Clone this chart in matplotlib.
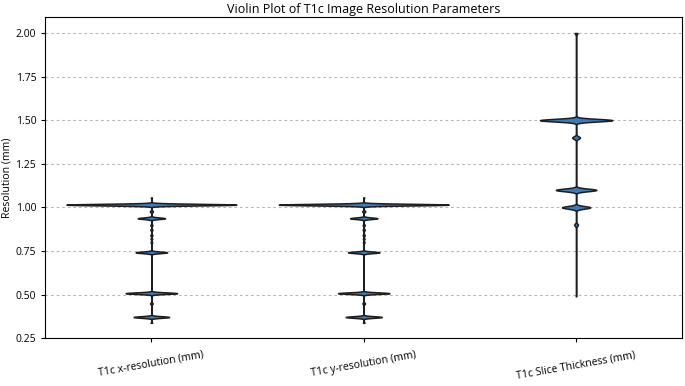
import numpy as np
import matplotlib
matplotlib.use("Agg")
import matplotlib.pyplot as plt

plt.rcParams['font.family'] = ['Open Sans', 'DejaVu Sans']

# Kategoriler
categories = ["T1c x-resolution (mm)", "T1c y-resolution (mm)", "T1c Slice Thickness (mm)"]

# Ayrık çözünürlük değerleri ve görüntü sayıları
x_values = [0.338, 0.3711, 0.449, 0.5078, 0.742, 0.80, 0.82, 0.84, 0.871, 0.898, 0.9375, 0.977, 1.0156, 1.057]
x_counts = [3, 69, 5, 100, 61, 3, 3, 4, 4, 4, 53, 6, 330, 2]

y_values = [0.338, 0.3711, 0.449, 0.5078, 0.742, 0.80, 0.82, 0.84, 0.871, 0.898, 0.9375, 0.977, 1.0156, 1.057]
y_counts = [3, 70, 5, 100, 61, 3, 3, 4, 4, 4, 53, 6, 330, 2]

slice_values = [0.49, 0.9, 1.0, 1.1, 1.4, 1.5, 2.0]
slice_counts = [2, 12, 91, 131, 25, 234, 9]

# her keman için bant genişliği
bandwidths = [0.0045, 0.0045, 0.0075]

series = [(x_values, x_counts), (y_values, y_counts), (slice_values, slice_counts)]

fig = plt.figure(figsize=(6.85, 3.86), dpi=100)
ax = fig.add_axes([0.066, 0.124, 0.93, 0.832])

# yoğunluklar (KDE)
dens_list = []
for (vals, cnts), h in zip(series, bandwidths):
    vals = np.array(vals)
    cnts = np.array(cnts)
    grid = np.linspace(vals.min(), vals.max(), 4000)
    d = np.zeros_like(grid)
    for v, c in zip(vals, cnts):
        d += c * np.exp(-0.5 * ((grid - v) / h) ** 2) / (h * np.sqrt(2 * np.pi))
    dens_list.append((grid, d))

gmax = max(d.max() for _, d in dens_list)

for i, (grid, d) in enumerate(dens_list):
    w = d / gmax * 0.4
    ax.fill_betweenx(grid, i - w, i + w, facecolor="#3a7cba",
                     edgecolor="#1e1e1e", linewidth=1.1, zorder=3)

ax.set_xlim(-0.5, 2.5)
ax.set_ylim(0.25, 2.092)
ax.set_yticks(np.arange(0.25, 2.01, 0.25))
ax.set_yticklabels([f"{t:.2f}" for t in np.arange(0.25, 2.01, 0.25)], fontsize=7.5)
ax.set_xticks([0, 1, 2])
ax.set_xticklabels(categories, rotation=10, fontsize=7.6)
ax.tick_params(axis='both', length=3, width=0.8)
ax.tick_params(axis='x', pad=5)

ax.set_ylabel("Resolution (mm)", fontsize=7.6, labelpad=2)
ax.set_title("Violin Plot of T1c Image Resolution Parameters", fontsize=9, pad=3)

ax.grid(axis='y', linestyle=(0, (2.5, 2.5)), color='#999999', alpha=0.7, linewidth=0.8)
ax.set_axisbelow(True)

plt.savefig("out.png", dpi=100)
